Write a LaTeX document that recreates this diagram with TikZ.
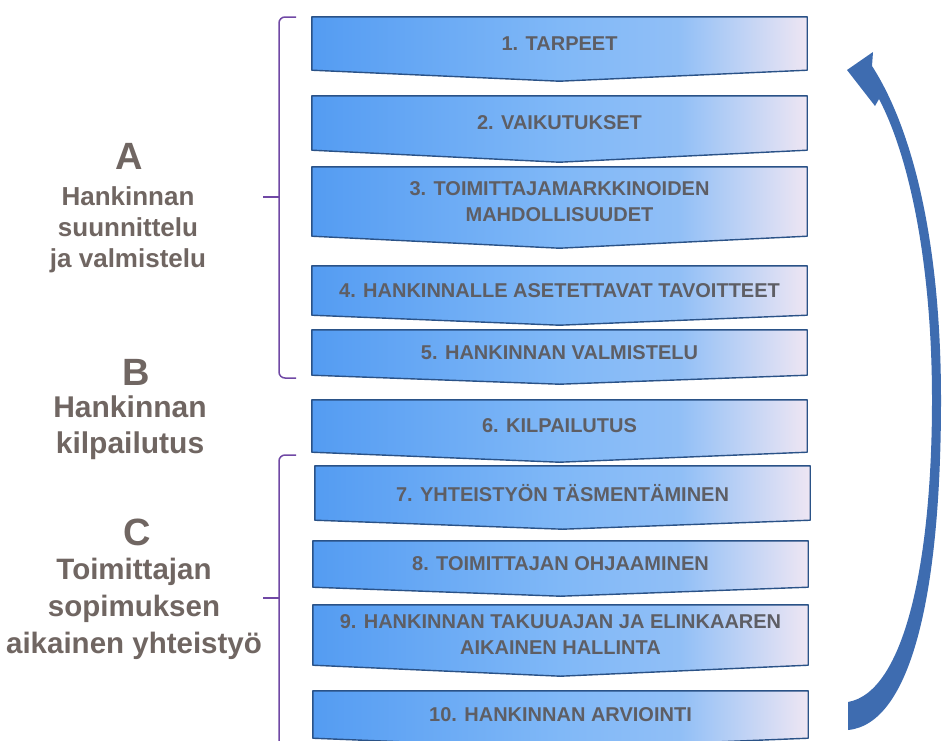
\documentclass[tikz,border=0pt]{standalone}
\usepackage{fontspec}
\setmainfont{Liberation Sans}
\usetikzlibrary{backgrounds}

\definecolor{boxleft}{RGB}{84,156,242}
\definecolor{boxmid}{RGB}{128,184,247}
\definecolor{boxright}{RGB}{238,230,243}
\definecolor{boxedge}{RGB}{42,82,135}
\definecolor{boxtext}{RGB}{94,94,100}
\definecolor{labeltext}{RGB}{112,102,98}
\definecolor{bracecol}{RGB}{112,72,165}
\definecolor{cyclecol}{RGB}{62,108,176}

\pgfdeclarehorizontalshading{stepfade}{100bp}{%
  color(0bp)=(boxleft); color(25bp)=(boxleft);
  color(50bp)=(boxmid); color(62bp)=(boxmid!85!boxright);
  color(75bp)=(boxright); color(100bp)=(boxright)}

\tikzset{
  phasetext/.style={inner sep=0pt, minimum width=495pt, align=center,
    text=boxtext, font=\bfseries\fontsize{20}{26}\selectfont},
  phaseshape/.style={shading=stepfade, draw=boxedge, line width=1.4pt,
    line join=round},
  bigletter/.style={inner sep=0pt, text=labeltext,
    font=\bfseries\fontsize{38}{40}\selectfont},
  sectiontext/.style={inner sep=0pt, align=center, text=labeltext},
  brace/.style={draw=bracecol, line width=1.5pt, rounded corners=6pt},
}

% one chevron step: name, x centre, top, bottom of sides, tip depth, text
\newcommand\procstep[6]{%
  \node[phasetext, minimum height={#4pt-#3pt}] (#1) at (#2,{(#3+#4)/2}) {#6};
  \begin{scope}[on background layer]
    \shadedraw[phaseshape] (#1.north west) -- (#1.north east) -- (#1.south east)
      -- ([yshift=-#5pt]#1.south) -- (#1.south west) -- cycle;
  \end{scope}
}

\begin{document}
\begin{tikzpicture}[x=1pt,y=-1pt]
\useasboundingbox (0,0) rectangle (942,740);
\clip (0,0) rectangle (942,740);

% process steps
\procstep{p1}{559.5}{17}{70}{11}{1. TARPEET}
\procstep{p2}{559.5}{96}{150}{12}{2. VAIKUTUKSET}
\procstep{p3}{559.5}{167}{236}{12}{3. TOIMITTAJAMARKKINOIDEN\\MAHDOLLISUUDET}
\procstep{p4}{559.5}{266}{315}{10}{4. HANKINNALLE ASETETTAVAT TAVOITTEET}
\procstep{p5}{559.5}{330}{375}{9}{5. HANKINNAN VALMISTELU}
\procstep{p6}{559.5}{400}{452}{10}{6. KILPAILUTUS}
\procstep{p7}{562.5}{466}{520}{9}{7. YHTEISTYÖN TÄSMENTÄMINEN}
\procstep{p8}{560.5}{541}{587}{9}{8. TOIMITTAJAN OHJAAMINEN}
\procstep{p9}{560.5}{605}{665}{11}{9. HANKINNAN TAKUUAJAN JA ELINKAAREN\\AIKAINEN HALLINTA}
\procstep{p10}{560.5}{691}{738}{10}{10. HANKINNAN ARVIOINTI}

% section braces
\draw[brace] (296,17) -- (279,17) -- (279,378) -- (296,378);
\draw[draw=bracecol, line width=1.5pt] (279,197) -- (263,197);
\draw[brace] (296,455) -- (279,455) -- (279,760);
\draw[draw=bracecol, line width=1.5pt] (279,598) -- (263,598);

% section labels
\node[bigletter] (la) at (129,156) {A};
\node[sectiontext, font=\bfseries\fontsize{26}{31}\selectfont] (ta) at (128,230)
  {Hankinnan\\suunnittelu\\ja valmistelu};
\node[bigletter] (lb) at (136,372) {B};
\node[sectiontext, font=\bfseries\fontsize{30}{36}\selectfont] (tb) at (130,428)
  {Hankinnan\\kilpailutus};
\node[bigletter] (lc) at (137,532) {C};
\node[sectiontext, font=\bfseries\fontsize{29.5}{37}\selectfont] (tc) at (134,609)
  {Toimittajan\\sopimuksen\\aikainen yhteistyö};

% feedback arrow from the last step back to the first
\fill[cyclecol] (848,730) .. controls (912,724) and (941,590) .. (941,400)
  .. controls (941,240) and (912,128) .. (872,66)
  -- (873,52) -- (847,70) -- (875,106) -- (879,99)
  .. controls (911,160) and (932,270) .. (932,400)
  .. controls (932,560) and (905,692) .. (848,702) -- cycle;
\end{tikzpicture}
\end{document}
